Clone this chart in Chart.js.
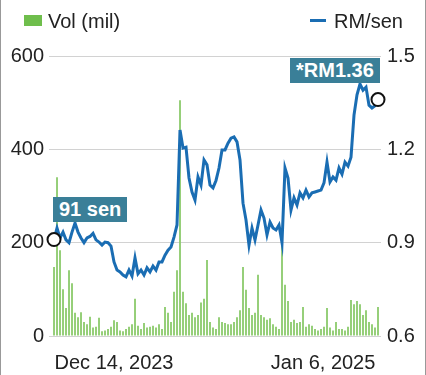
<!DOCTYPE html>
<html lang="en">
<head>
    <meta charset="UTF-8">
    <title>Vol / RM</title>
    <style>
        html, body {
            margin: 0;
            padding: 0;
            background: #fff;
        }
        #wrap {
            position: relative;
            width: 426px;
            height: 375px;
            box-sizing: border-box;
            border-left: 1px solid #999;
            border-right: 1px solid #999;
            font-family: "Liberation Sans", Arial, Helvetica, sans-serif;
            color: #222;
        }
        #chartBox {
            position: absolute;
            left: 0;
            top: 0;
            width: 424px;
            height: 375px;
        }
        .legend {
            position: absolute;
            top: 9px;
            font-size: 20px;
            line-height: 24px;
        }
        .swatch {
            display: inline-block;
            vertical-align: middle;
            margin-right: 6px;
        }
        .tag {
            position: absolute;
            background: #3a7f98;
            color: #fff;
            font-weight: bold;
            font-size: 20px;
            line-height: 25px;
            padding: 0 6px;
            white-space: nowrap;
        }
    </style>
    <script src="https://cdn.jsdelivr.net/npm/chart.js"></script>
</head>
<body>
<div id="wrap">
    <div id="chartBox"><canvas id="volChart"></canvas></div>
    <div class="legend" style="left:23px"><span class="swatch" style="width:18px;height:11px;background:#6fbe4c;position:relative;top:-2px"></span>Vol (mil)</div>
    <div class="legend" style="left:309px"><span class="swatch" style="width:16px;height:3px;background:#1a6db3;position:relative;top:-2px;margin-right:8px"></span>RM/sen</div>
    <div class="tag" id="tagStart">91 sen</div>
    <div class="tag" id="tagEnd">*RM1.36</div>
</div>

<script>
    // price, RM (right axis)
    const prices = [
        0.91, 0.947, 0.915, 0.934, 0.909, 0.90, 0.934, 0.963, 0.934, 0.915,
        0.90, 0.915, 0.92, 0.93, 0.909, 0.902, 0.892, 0.902, 0.90, 0.889,
        0.838, 0.812, 0.806, 0.796, 0.79, 0.812, 0.793, 0.851, 0.80, 0.812,
        0.796, 0.819, 0.806, 0.825, 0.812, 0.838, 0.838, 0.86, 0.876, 0.886,
        0.918, 0.957, 1.262, 1.204, 1.207, 1.108, 1.063, 1.037, 1.111, 1.085,
        1.166, 1.15, 1.085, 1.076, 1.10, 1.14, 1.198, 1.198, 1.22, 1.236,
        1.24, 1.224, 1.166, 1.027, 0.973, 0.892, 0.947, 0.909, 0.957, 1.005,
        0.979, 0.925, 0.966, 0.947, 0.941, 0.957, 0.90, 1.14, 1.108, 1.005,
        1.044, 1.021, 1.06, 1.044, 1.069, 1.047, 1.06, 1.063, 1.066, 1.069,
        1.092, 1.159, 1.095, 1.111, 1.101, 1.14, 1.12, 1.159, 1.146, 1.175,
        1.31, 1.375, 1.41, 1.39, 1.40, 1.342, 1.333, 1.34, 1.36
    ];

    // volume, million shares (left axis)
    const volumes = [
        148, 340, 184, 100, 60, 141, 113, 50, 40, 51,
        30, 25, 41, 18, 20, 39, 10, 12, 15, 20,
        34, 30, 12, 10, 15, 20, 25, 80, 22, 15,
        28, 18, 20, 22, 18, 25, 15, 62, 50, 30,
        95, 141, 505, 95, 70, 45, 50, 40, 45, 72,
        80, 163, 30, 18, 15, 40, 30, 28, 25, 25,
        30, 40, 55, 148, 99, 60, 45, 50, 131, 45,
        40, 35, 38, 25, 20, 15, 195, 110, 75, 30,
        35, 28, 30, 62, 20, 25, 22, 15, 12, 15,
        20, 60, 18, 12, 30, 15, 15, 12, 20, 77,
        68, 75, 68, 45, 55, 30, 25, 18, 62
    ];

    // x tick labels and where they sit (index into the series)
    const tickLabels = ['Dec 14, 2023', 'Jan 6, 2025'];
    const tickPositions = [20, 89.7];

    const lastIdx = prices.length - 1;
    const font = { family: '"Liberation Sans", Arial, Helvetica, sans-serif', size: 20 };

    // keep the two tags next to the first and last points
    const tagPlugin = {
        id: 'tags',
        afterRender(chart) {
            const x = chart.scales.x, y = chart.scales.yR;
            const x0 = x.getPixelForValue(0), y0 = y.getPixelForValue(prices[0]);
            const x1 = x.getPixelForValue(lastIdx), y1 = y.getPixelForValue(prices[lastIdx]);
            const s = document.getElementById('tagStart');
            s.style.left = (x0 - 1) + 'px';
            s.style.top = (y0 - 43) + 'px';
            const e = document.getElementById('tagEnd');
            e.style.left = (x1 + 2 - e.offsetWidth) + 'px';
            e.style.top = (y1 - 42) + 'px';
        }
    };

    const ctx = document.getElementById('volChart').getContext('2d');
    new Chart(ctx, {
        data: {
            datasets: [
                {
                    type: 'line',
                    label: 'RM/sen',
                    data: prices.map((v, i) => ({ x: i, y: v })),
                    yAxisID: 'yR',
                    borderColor: '#1a6db3',
                    borderWidth: 3,
                    tension: 0,
                    clip: false,
                    pointRadius: c => (c.dataIndex === 0 || c.dataIndex === lastIdx) ? 6.5 : 0,
                    pointBackgroundColor: '#fff',
                    pointBorderColor: '#111',
                    pointBorderWidth: 2,
                    order: 0
                },
                {
                    type: 'bar',
                    label: 'Vol (mil)',
                    data: volumes.map((v, i) => ({ x: i, y: v })),
                    yAxisID: 'yL',
                    backgroundColor: '#8bca6b',
                    barPercentage: 0.6,
                    categoryPercentage: 1,
                    order: 1
                }
            ]
        },
        options: {
            responsive: true,
            maintainAspectRatio: false,
            animation: false,
            layout: { padding: { top: 56, left: 0, right: 0, bottom: 0 } },
            plugins: {
                legend: { display: false },
                tooltip: { enabled: false }
            },
            scales: {
                x: {
                    type: 'linear',
                    offset: false,
                    min: -1.67,
                    max: 109,
                    grid: { display: false },
                    border: { display: false },
                    afterBuildTicks: s => { s.ticks = tickPositions.map(v => ({ value: v })); },
                    afterFit: s => { s.height = 39; },
                    ticks: {
                        autoSkip: false,
                        maxRotation: 0,
                        padding: 7,
                        color: '#222',
                        font: font,
                        callback: (v, i) => tickLabels[i]
                    }
                },
                yL: {
                    position: 'left',
                    min: 0,
                    max: 600,
                    afterFit: s => { s.width = 48; },
                    border: { display: false },
                    grid: { color: '#d2d2d2', lineWidth: 1, drawTicks: false },
                    ticks: { stepSize: 200, padding: 5, color: '#222', font: font }
                },
                yR: {
                    position: 'right',
                    min: 0.6,
                    max: 1.5,
                    afterFit: s => { s.width = 44; },
                    border: { display: false },
                    grid: { display: false, drawTicks: false },
                    ticks: {
                        stepSize: 0.3,
                        padding: 6,
                        color: '#222',
                        font: font,
                        callback: v => v.toFixed(1)
                    }
                }
            }
        },
        plugins: [tagPlugin]
    });
</script>
</body>
</html>
